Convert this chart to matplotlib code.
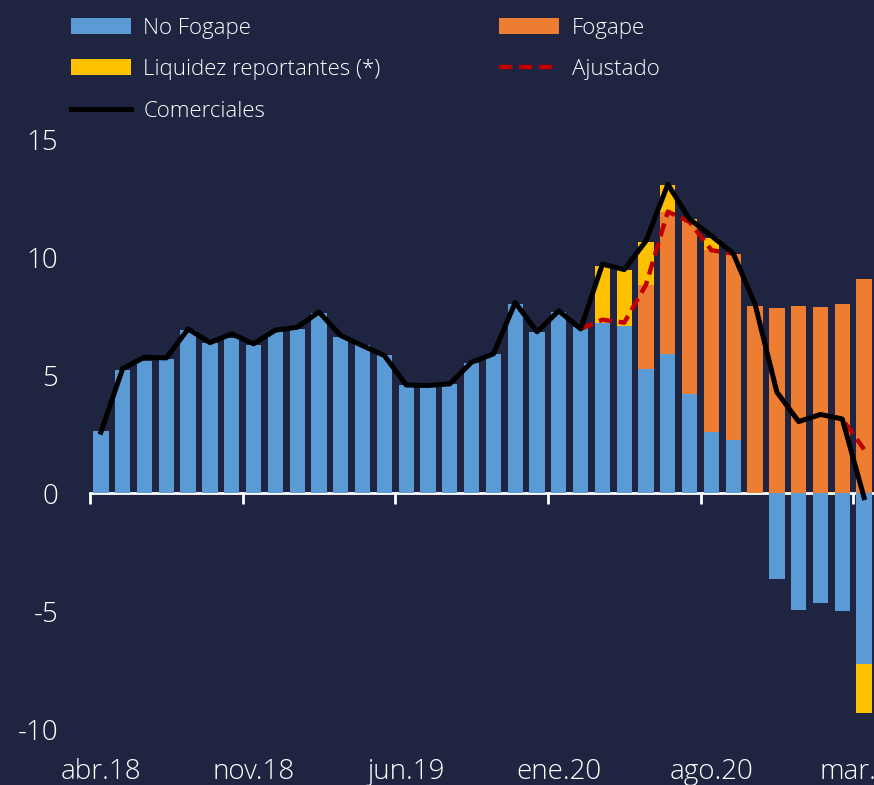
import numpy as np
import matplotlib.pyplot as plt
from matplotlib.lines import Line2D
from matplotlib.patches import Patch

# monthly data, abr.18 .. mar.21
months = ['abr.18', 'may.18', 'jun.18', 'jul.18', 'ago.18', 'sep.18', 'oct.18', 'nov.18', 'dic.18',
          'ene.19', 'feb.19', 'mar.19', 'abr.19', 'may.19', 'jun.19', 'jul.19', 'ago.19', 'sep.19',
          'oct.19', 'nov.19', 'dic.19', 'ene.20', 'feb.20', 'mar.20', 'abr.20', 'may.20', 'jun.20',
          'jul.20', 'ago.20', 'sep.20', 'oct.20', 'nov.20', 'dic.20', 'ene.21', 'feb.21', 'mar.21']

no_fogape = [2.63, 5.25, 5.64, 5.70, 6.93, 6.37, 6.60, 6.30, 6.84, 6.98, 7.64, 6.65,
             6.30, 5.89, 4.58, 4.50, 4.65, 5.54, 5.92, 8.06, 6.86, 7.71, 7.05, 7.23,
             7.12, 5.28, 5.92, 4.22, 2.60, 2.27, 0.0, -3.63, -4.96, -4.65, -4.99, -7.25]
fogape = [0.0] * 25 + [3.58, 6.04, 7.30, 7.72, 7.88, 7.97, 7.87, 7.94, 7.90, 8.03, 9.12]
liquidez = [0.0] * 23 + [2.43, 2.36, 1.82, 1.12, 0.12, 0.54, 0.0, 0.0, 0.0, 0.0, 0.0, 0.0, -2.08]

comerciales = [2.60, 5.30, 5.78, 5.75, 6.98, 6.40, 6.77, 6.35, 6.93, 7.05, 7.70, 6.70,
               6.27, 5.85, 4.60, 4.58, 4.65, 5.57, 5.92, 8.10, 6.86, 7.75, 6.98, 9.73,
               9.50, 10.72, 13.12, 11.64, 10.93, 10.18, 8.03, 4.30, 3.05, 3.35, 3.16, -0.18]
ajustado = [np.nan] * 22 + [6.98, 7.37, 7.25, 8.86, 11.96, 11.52, 10.32, 10.18,
                            8.03, 4.30, 3.05, 3.35, 3.16, 1.87]

bg = '#1F2440'
c_blue = '#5B9BD5'
c_orange = '#ED7D31'
c_yellow = '#FFC000'
c_red = '#C00000'

plt.rcParams['font.family'] = ['Open Sans', 'DejaVu Sans']
plt.rcParams['font.weight'] = 'light'

x = np.arange(len(months))
nf = np.array(no_fogape)
fg = np.array(fogape)
lq = np.array(liquidez)

# stacking: positives upward, negatives downward
pos = np.clip(nf, 0, None) + np.clip(fg, 0, None)
neg = np.clip(nf, None, 0) + np.clip(fg, None, 0)
fg_bottom = np.where(fg >= 0, np.clip(nf, 0, None), np.clip(nf, None, 0))
lq_bottom = np.where(lq >= 0, pos, neg)

fig = plt.figure(figsize=(8.74, 7.85), dpi=100, facecolor=bg)
ax = fig.add_axes([90 / 874, 56 / 785, 785 / 874, 589 / 785])
ax.set_facecolor(bg)

dash = (0, (3.0, 1.5))
w = 0.7
ax.bar(x, nf, width=w, color=c_blue, zorder=2)
ax.bar(x, fg, width=w, bottom=fg_bottom, color=c_orange, zorder=2)
ax.bar(x, lq, width=w, bottom=lq_bottom, color=c_yellow, zorder=2)
ax.plot(x, ajustado, color=c_red, lw=3.2, ls=dash, zorder=3)
ax.plot(x, comerciales, color='black', lw=3.6, zorder=4)

ax.set_xlim(-0.5, len(months) - 0.5)
ax.set_ylim(-10, 15)
ax.set_yticks([-10, -5, 0, 5, 10, 15])
ax.set_yticklabels(['-10', '-5', '0', '5', '10', '15'])
ax.tick_params(axis='y', length=0, pad=23, labelsize=20, colors='white')

lab_idx = list(range(0, len(months), 7))
ax.set_xticks(lab_idx)
ax.set_xticklabels([months[i] for i in lab_idx])
ax.tick_params(axis='x', length=0, pad=21, labelsize=20, colors='white')
for s in ax.spines.values():
    s.set_visible(False)

# horizontal axis line at zero with category-boundary ticks
y0 = (0 - ax.get_ylim()[0]) / (ax.get_ylim()[1] - ax.get_ylim()[0])
sec = ax.secondary_xaxis(y0)
sec.set_xticks([i - 0.5 for i in range(0, len(months), 7)])
sec.set_xticklabels([])
sec.tick_params(axis='x', direction='out', length=8, width=2, color='white')
sec.spines['bottom'].set_color('white')
sec.spines['bottom'].set_linewidth(2)
sec.spines['bottom'].set_zorder(5)

handles = [
    Patch(facecolor=c_blue, label='No Fogape'),
    Patch(facecolor=c_yellow, label='Liquidez reportantes (*)'),
    Line2D([], [], color='black', lw=3.6, label='Comerciales'),
    Patch(facecolor=c_orange, label='Fogape'),
    Line2D([], [], color=c_red, lw=3.2, ls=dash, label='Ajustado'),
]
leg = fig.legend(handles=handles, ncol=2, loc='upper left', bbox_to_anchor=(51 / 874, 1.003),
                 frameon=False, fontsize=16, labelcolor='white', handlelength=2.7,
                 handleheight=0.72, handletextpad=0.55, columnspacing=5.35, labelspacing=0.92)

fig.savefig('out.png', dpi=100, facecolor=bg)
